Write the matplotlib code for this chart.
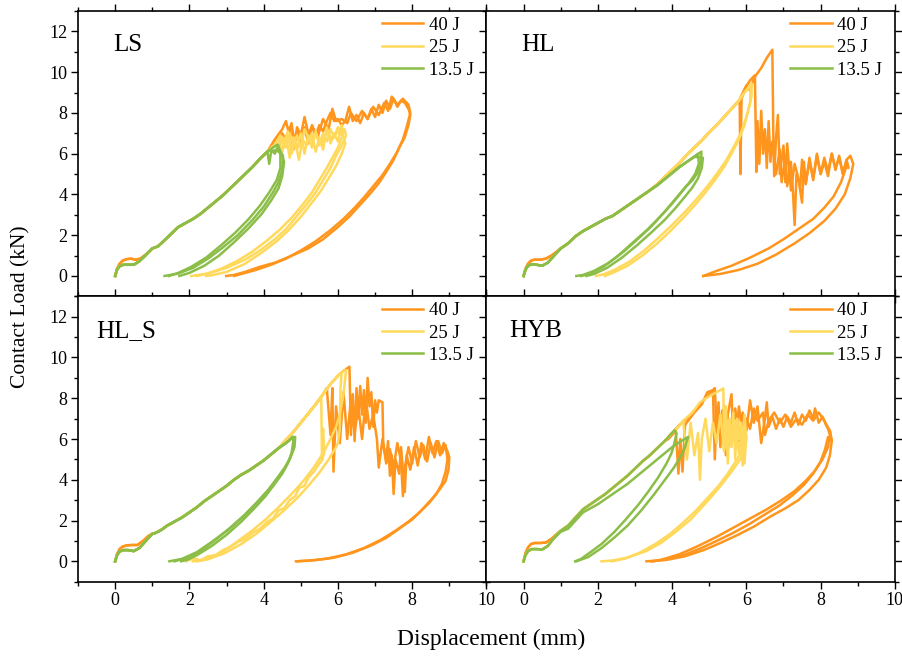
import numpy as np
import matplotlib
matplotlib.use('Agg')
import matplotlib.pyplot as plt
from matplotlib.ticker import MultipleLocator
from matplotlib.lines import Line2D

plt.rcParams['font.family'] = ['Liberation Serif', 'DejaVu Serif']
plt.rcParams['mathtext.fontset'] = 'stix'

C40, C25, C13 = '#FF951C', '#FFD95C', '#8BBE48'
ENERGIES = ['40 J', '25 J', '13.5 J']
PANELS = ['LS', 'HL', 'HL_S', 'HYB']

# ---------------- LS ----------------
LS_toe_40 = [(0, 0), (0.05, 0.35), (0.12, 0.6), (0.2, 0.75), (0.3, 0.82), (0.42, 0.85), (0.55, 0.8), (0.68, 0.85), (0.82, 1.05)]
LS_toe = [(0, 0), (0.05, 0.3), (0.12, 0.48), (0.22, 0.55), (0.35, 0.55), (0.5, 0.55), (0.65, 0.72), (0.8, 0.98)]
LS_path = [(1.0, 1.35), (1.15, 1.45), (1.3, 1.7), (1.5, 2.05), (1.7, 2.4), (1.9, 2.6), (2.1, 2.8), (2.3, 3.05),
           (2.5, 3.35), (2.7, 3.65), (2.9, 3.95), (3.1, 4.3), (3.3, 4.65), (3.5, 5.0), (3.7, 5.35), (3.9, 5.75), (4.1, 6.1)]
LS_13_peak1 = [(4.25, 6.3), (4.38, 6.45), (4.45, 6.1), (4.52, 5.9)]
LS_13_peak2 = [(4.2, 6.2), (4.3, 6.0), (4.38, 6.3), (4.45, 6.1)]
LS_13_peak3 = [(4.15, 5.5), (4.2, 6.1), (4.35, 6.2), (4.5, 5.9), (4.55, 5.6)]
LS_13_un1 = [(4.5, 5.2), (4.4, 4.6), (4.25, 4.1), (4.0, 3.4), (3.7, 2.75), (3.3, 2.0), (2.9, 1.4), (2.5, 0.85), (2.1, 0.4), (1.7, 0.12), (1.33, 0)]
LS_13_un2 = [(4.45, 5.3), (4.35, 4.7), (4.15, 4.1), (3.9, 3.45), (3.6, 2.8), (3.25, 2.15), (2.85, 1.5), (2.45, 0.9), (2.05, 0.45), (1.7, 0.15), (1.45, 0)]
LS_13_un3 = [(4.5, 4.9), (4.4, 4.3), (4.2, 3.7), (3.95, 3.05), (3.6, 2.35), (3.2, 1.65), (2.8, 1.0), (2.4, 0.5), (2.0, 0.15), (1.73, 0)]
LS_25_top1 = [(4.3, 6.45), (4.4, 6.7), (4.5, 6.1), (4.6, 6.9), (4.7, 5.8), (4.8, 6.8), (4.9, 6.2), (5.0, 7.0), (5.1, 6.0), (5.2, 6.9),
              (5.3, 6.3), (5.4, 7.1), (5.5, 6.4), (5.6, 7.0), (5.7, 6.6), (5.8, 7.2), (5.9, 6.8), (6.0, 7.3), (6.1, 7.0), (6.18, 7.2), (6.22, 6.9)]
LS_25_top2 = [(4.3, 6.45), (4.45, 6.9), (4.55, 6.3), (4.65, 7.1), (4.75, 6.0), (4.85, 6.6), (4.95, 5.7), (5.05, 6.7), (5.15, 6.4),
              (5.3, 7.0), (5.4, 6.1), (5.5, 6.8), (5.6, 6.2), (5.7, 7.3), (5.8, 6.5), (5.9, 7.0), (6.0, 6.6), (6.1, 7.4), (6.15, 7.0)]
LS_25_top3 = [(4.3, 6.45), (4.4, 6.2), (4.5, 6.8), (4.6, 6.3), (4.7, 7.0), (4.8, 6.5), (4.9, 6.9), (5.0, 6.3), (5.1, 7.2), (5.25, 6.6),
              (5.4, 6.9), (5.55, 6.5), (5.7, 7.1), (5.85, 6.7), (6.0, 7.1), (6.15, 6.8), (6.2, 6.5)]
LS_25_un1 = [(6.1, 6.4), (5.95, 5.9), (5.8, 5.3), (5.6, 4.7), (5.4, 4.1), (5.15, 3.5), (4.9, 2.95), (4.6, 2.3), (4.3, 1.8), (3.9, 1.25),
             (3.5, 0.8), (3.0, 0.4), (2.5, 0.12), (2.05, 0)]
LS_25_un2 = [(6.0, 6.3), (5.85, 5.8), (5.7, 5.3), (5.5, 4.7), (5.3, 4.1), (5.05, 3.5), (4.75, 2.85), (4.45, 2.3), (4.1, 1.75), (3.7, 1.2),
             (3.3, 0.75), (2.85, 0.35), (2.45, 0.1), (2.2, 0)]
LS_25_un3 = [(6.1, 6.0), (5.95, 5.4), (5.75, 4.8), (5.55, 4.2), (5.3, 3.6), (5.0, 2.9), (4.7, 2.3), (4.35, 1.7), (3.95, 1.15), (3.5, 0.6),
             (3.0, 0.2), (2.6, 0.03), (2.45, 0)]
LS_40_top1 = [(4.3, 6.7), (4.5, 7.2), (4.6, 7.6), (4.68, 7.0), (4.75, 7.5), (4.83, 6.5), (4.9, 7.3), (5.0, 6.9), (5.1, 7.8), (5.2, 7.0),
              (5.3, 7.3), (5.4, 6.9), (5.5, 7.4), (5.6, 7.1), (5.7, 7.6), (5.8, 8.0), (5.9, 7.6), (6.0, 7.7), (6.1, 7.4), (6.2, 7.6),
              (6.3, 8.3), (6.4, 7.6), (6.5, 7.9), (6.6, 7.5), (6.7, 8.0), (6.8, 7.7), (6.9, 8.2), (7.0, 7.8), (7.1, 8.4), (7.2, 8.0),
              (7.3, 8.6), (7.4, 8.2), (7.5, 8.7), (7.6, 8.3), (7.7, 8.6), (7.8, 8.5), (7.9, 8.2), (7.95, 7.9)]
LS_40_top2 = [(4.3, 6.6), (4.5, 7.0), (4.6, 6.7), (4.7, 7.3), (4.8, 6.2), (4.9, 7.1), (5.0, 6.6), (5.1, 7.3), (5.2, 6.5), (5.3, 7.4),
              (5.45, 6.8), (5.6, 7.7), (5.75, 7.2), (5.85, 8.2), (5.95, 7.6), (6.1, 7.7), (6.25, 7.5), (6.35, 8.0), (6.5, 7.6),
              (6.65, 8.1), (6.8, 7.7), (6.95, 8.3), (7.1, 7.9), (7.25, 8.5), (7.35, 8.1), (7.45, 8.8), (7.6, 8.4), (7.75, 8.7),
              (7.9, 8.4), (7.95, 8.0)]
LS_40_un1 = [(7.9, 7.4), (7.8, 6.8), (7.65, 6.3), (7.5, 5.7), (7.3, 5.1), (7.1, 4.55), (6.85, 4.0), (6.6, 3.5), (6.3, 2.9), (6.0, 2.4),
             (5.6, 1.8), (5.2, 1.35), (4.7, 0.95), (4.3, 0.65), (3.9, 0.45), (3.5, 0.2), (3.2, 0.05), (2.99, 0)]
LS_40_un2 = [(7.85, 7.3), (7.75, 6.7), (7.6, 6.1), (7.4, 5.5), (7.2, 4.95), (6.95, 4.4), (6.7, 3.85), (6.45, 3.35), (6.15, 2.8),
             (5.8, 2.25), (5.4, 1.7), (5.0, 1.25), (4.6, 0.85), (4.2, 0.55), (3.8, 0.3), (3.4, 0.1), (3.2, 0)]

# ---------------- HL ----------------
HL_toe_40 = [(0, 0), (0.05, 0.35), (0.12, 0.6), (0.2, 0.75), (0.3, 0.8), (0.45, 0.8), (0.6, 0.85), (0.75, 1.0), (0.9, 1.2)]
HL_toe = [(0, 0), (0.05, 0.3), (0.12, 0.5), (0.22, 0.58), (0.35, 0.55), (0.5, 0.5), (0.65, 0.65), (0.8, 0.95)]
HL_path = [(1.0, 1.35), (1.2, 1.6), (1.4, 1.95), (1.6, 2.2), (1.8, 2.4), (2.0, 2.6), (2.2, 2.8), (2.4, 2.95), (2.6, 3.2),
           (2.8, 3.45), (3.0, 3.7), (3.2, 3.95), (3.4, 4.2)]
HL_upper = [(3.6, 4.5), (3.8, 4.85), (4.0, 5.2), (4.2, 5.55), (4.4, 5.95), (4.6, 6.3), (4.8, 6.65), (5.0, 7.05), (5.2, 7.4),
            (5.4, 7.8), (5.6, 8.2), (5.8, 8.6)]
HL_13_load = [(3.6, 4.45), (3.8, 4.75), (4.0, 5.05), (4.2, 5.35), (4.4, 5.6), (4.6, 5.85)]
HL_13_un1 = [(4.79, 6.1), (4.78, 5.6), (4.7, 5.1), (4.55, 4.7), (4.35, 4.35), (4.1, 3.8), (3.8, 3.15), (3.45, 2.45), (3.1, 1.85),
             (2.7, 1.2), (2.3, 0.65), (1.9, 0.25), (1.6, 0.05), (1.42, 0)]
HL_13_un2 = [(4.83, 5.8), (4.8, 5.3), (4.7, 4.8), (4.55, 4.35), (4.35, 3.9), (4.1, 3.35), (3.8, 2.75), (3.45, 2.15), (3.05, 1.5),
             (2.65, 0.9), (2.25, 0.4), (1.9, 0.1), (1.69, 0)]
HL_13_un3 = [(4.7, 6.0), (4.72, 5.5), (4.62, 5.0), (4.45, 4.55), (4.25, 4.1), (4.0, 3.55), (3.7, 2.95), (3.35, 2.3), (2.95, 1.65),
             (2.55, 1.0), (2.15, 0.45), (1.8, 0.12), (1.55, 0)]
HL_25_peak1 = [(5.95, 9.0), (6.08, 9.3), (6.14, 9.45)]
HL_25_peak2 = [(5.9, 8.9), (6.05, 9.2), (6.12, 9.3)]
HL_25_un1 = [(6.14, 8.8), (6.05, 8.1), (5.95, 7.4), (5.8, 6.7), (5.6, 6.0), (5.4, 5.35), (5.15, 4.7), (4.9, 4.1), (4.6, 3.45),
             (4.3, 2.85), (3.95, 2.2), (3.6, 1.6), (3.2, 1.0), (2.8, 0.5), (2.4, 0.15), (2.19, 0)]
HL_25_un2 = [(6.1, 8.5), (6.0, 7.8), (5.85, 7.0), (5.65, 6.3), (5.45, 5.65), (5.2, 5.0), (4.95, 4.4), (4.65, 3.75), (4.35, 3.15),
             (4.0, 2.5), (3.65, 1.9), (3.25, 1.25), (2.85, 0.7), (2.45, 0.3), (2.15, 0.08), (1.95, 0)]
HL_40_top1 = [(5.82, 8.65), (5.84, 5.0), (5.87, 8.7), (6.0, 9.3), (6.1, 9.6), (6.23, 9.85), (6.27, 5.1), (6.3, 7.6), (6.35, 5.5),
              (6.4, 8.1), (6.45, 6.0), (6.5, 7.2), (6.55, 5.3), (6.6, 7.6), (6.65, 5.6), (6.7, 6.6), (6.8, 5.0), (6.9, 6.2),
              (6.95, 4.6), (7.05, 5.9), (7.1, 4.4), (7.2, 5.6), (7.25, 4.3), (7.3, 2.5), (7.35, 5.0), (7.45, 4.4), (7.5, 5.7),
              (7.6, 4.6), (7.7, 5.6), (7.8, 4.8), (7.9, 5.9), (8.0, 5.0), (8.1, 5.8), (8.2, 5.1), (8.3, 6.0), (8.4, 5.3),
              (8.5, 5.8), (8.6, 5.0), (8.7, 5.7), (8.8, 5.9), (8.88, 5.5)]
HL_40_top2 = [(6.0, 9.35), (6.1, 9.1), (6.2, 9.7), (6.4, 10.2), (6.55, 10.7), (6.7, 11.1), (6.73, 6.3), (6.75, 4.9), (6.8, 6.8),
              (6.85, 7.9), (6.9, 5.0), (7.0, 6.4), (7.05, 4.6), (7.1, 6.5), (7.2, 4.2), (7.3, 5.5), (7.4, 4.8), (7.5, 3.6),
              (7.55, 5.6), (7.6, 4.5), (7.7, 5.8), (7.8, 4.7), (7.9, 6.0), (8.0, 5.0), (8.1, 5.6), (8.2, 4.9), (8.3, 6.0),
              (8.4, 5.2), (8.5, 5.9), (8.6, 5.0), (8.7, 5.7), (8.75, 5.3)]
HL_40_un1 = [(8.8, 4.8), (8.65, 4.0), (8.4, 3.3), (8.1, 2.7), (7.7, 2.1), (7.3, 1.6), (6.8, 1.05), (6.3, 0.6), (5.8, 0.3),
             (5.3, 0.1), (4.84, 0)]
HL_40_un2 = [(8.7, 5.4), (8.55, 4.6), (8.35, 3.9), (8.1, 3.35), (7.8, 2.8), (7.4, 2.3), (7.0, 1.8), (6.6, 1.35), (6.1, 0.9),
             (5.6, 0.5), (5.2, 0.25), (4.84, 0)]

# ---------------- HL_S ----------------
HLS_toe_40 = [(0, 0), (0.05, 0.35), (0.12, 0.6), (0.2, 0.72), (0.3, 0.78), (0.45, 0.8), (0.6, 0.8), (0.75, 1.0), (0.9, 1.25)]
HLS_toe = [(0, 0), (0.05, 0.3), (0.12, 0.48), (0.22, 0.55), (0.35, 0.55), (0.5, 0.5), (0.65, 0.65), (0.8, 0.95)]
HLS_path = [(1.0, 1.35), (1.1, 1.4), (1.25, 1.55), (1.4, 1.75), (1.6, 1.95), (1.8, 2.15), (2.0, 2.4), (2.2, 2.65), (2.4, 2.95),
            (2.6, 3.2), (2.8, 3.45), (3.0, 3.7), (3.2, 4.0), (3.4, 4.25), (3.6, 4.45), (3.8, 4.7), (4.0, 4.95), (4.2, 5.25),
            (4.4, 5.55)]
HLS_upper = [(4.6, 5.95), (4.8, 6.35), (5.0, 6.8), (5.2, 7.25), (5.4, 7.7), (5.6, 8.2)]
HLS_upper2 = [(5.8, 8.7), (6.0, 9.1), (6.15, 9.35)]
HLS_13_load = [(4.6, 5.8), (4.7, 5.95), (4.78, 6.1)]
HLS_13_un1 = [(4.82, 6.0), (4.8, 5.5), (4.7, 5.0), (4.55, 4.55), (4.35, 4.05), (4.1, 3.45), (3.8, 2.85), (3.45, 2.2), (3.05, 1.55),
              (2.6, 0.95), (2.2, 0.45), (1.8, 0.12), (1.46, 0)]
HLS_13_un2 = [(4.8, 5.9), (4.75, 5.3), (4.65, 4.8), (4.5, 4.3), (4.3, 3.8), (4.05, 3.2), (3.75, 2.6), (3.4, 1.95), (3.0, 1.3),
              (2.6, 0.75), (2.2, 0.3), (1.95, 0.08), (1.78, 0)]
HLS_13_un3 = [(4.85, 6.1), (4.83, 5.6), (4.72, 5.1), (4.58, 4.6), (4.4, 4.15), (4.15, 3.55), (3.85, 2.95), (3.5, 2.3), (3.1, 1.65),
              (2.7, 1.05), (2.3, 0.5), (1.9, 0.15), (1.6, 0)]
HLS_25_un1 = [(6.22, 9.38), (6.15, 8.2), (6.05, 7.2), (5.95, 6.6), (5.8, 6.0), (5.6, 5.3), (5.35, 4.6), (5.05, 3.9), (4.75, 3.3),
              (4.4, 2.65), (4.05, 2.05), (3.65, 1.45), (3.2, 0.85), (2.8, 0.35), (2.4, 0.08), (2.09, 0)]
HLS_25_un2 = [(5.55, 8.1), (5.57, 5.0), (5.6, 6.5), (5.63, 5.3), (5.55, 4.9), (5.5, 4.8), (5.35, 4.4), (5.2, 4.1), (5.1, 3.7),
              (4.95, 3.6), (4.85, 3.2), (4.7, 3.0), (4.55, 2.6), (4.4, 2.5), (4.25, 2.1), (4.1, 1.95), (3.9, 1.6), (3.7, 1.4),
              (3.5, 1.1), (3.3, 0.95), (3.1, 0.7), (2.9, 0.55), (2.7, 0.3), (2.5, 0.25), (2.3, 0.05), (2.1, 0.15), (1.91, 0)]
HLS_25_un3 = [(6.1, 9.25), (6.07, 8.5), (6.05, 6.5), (6.0, 5.8), (5.95, 5.6), (5.75, 5.0), (5.5, 4.35), (5.2, 3.7), (4.9, 3.1),
              (4.55, 2.5), (4.2, 1.95), (3.8, 1.35), (3.4, 0.85), (2.95, 0.4), (2.5, 0.1), (2.2, 0)]
HLS_40_top1 = [(6.2, 9.4), (6.31, 9.55), (6.35, 6.2), (6.4, 8.2), (6.45, 5.9), (6.5, 8.5), (6.55, 7.0), (6.6, 8.6), (6.65, 7.2),
               (6.7, 8.4), (6.75, 6.8), (6.8, 9.0), (6.85, 7.6), (6.9, 8.3), (6.95, 6.6), (7.0, 7.9), (7.05, 7.3), (7.1, 7.9),
               (7.2, 7.8), (7.22, 5.8), (7.3, 5.0), (7.35, 5.9), (7.4, 4.2), (7.45, 5.2), (7.5, 3.3), (7.55, 5.0), (7.65, 4.3),
               (7.7, 5.6), (7.8, 3.4), (7.85, 5.2), (7.95, 4.5), (8.05, 5.6), (8.15, 4.7), (8.25, 5.8), (8.35, 5.0), (8.45, 6.1),
               (8.55, 5.3), (8.65, 5.9), (8.75, 5.2), (8.85, 5.8), (8.95, 5.4), (9.0, 5.1)]
HLS_40_top2 = [(5.7, 8.5), (5.8, 6.2), (5.85, 8.5), (5.88, 4.4), (5.95, 7.6), (6.05, 5.8), (6.15, 8.3), (6.25, 6.0), (6.35, 8.0),
               (6.45, 6.3), (6.55, 7.6), (6.65, 6.0), (6.75, 8.0), (6.85, 6.5), (6.95, 7.2), (7.05, 6.0), (7.1, 4.6), (7.2, 6.0),
               (7.3, 4.8), (7.4, 5.5), (7.5, 4.6), (7.6, 5.8), (7.7, 4.9), (7.75, 3.2), (7.8, 4.6), (7.9, 5.6), (8.0, 4.8),
               (8.1, 5.9), (8.2, 5.1), (8.3, 5.7), (8.4, 4.9), (8.5, 5.8), (8.6, 5.1), (8.7, 5.9), (8.8, 5.3), (8.9, 5.7),
               (8.95, 5.0)]
HLS_40_un1 = [(8.98, 4.5), (8.9, 3.95), (8.75, 3.55), (8.55, 3.1), (8.3, 2.6), (8.0, 2.05), (7.65, 1.6), (7.3, 1.15), (6.9, 0.78),
              (6.4, 0.42), (5.9, 0.18), (5.4, 0.06), (4.87, 0)]
HLS_40_un2 = [(8.9, 4.4), (8.8, 3.8), (8.65, 3.3), (8.45, 2.85), (8.2, 2.4), (7.9, 1.95), (7.55, 1.5), (7.15, 1.05), (6.7, 0.65),
              (6.2, 0.33), (5.7, 0.13), (5.2, 0.03), (4.9, 0)]

# ---------------- HYB ----------------
HYB_toe_40 = [(0, 0), (0.05, 0.4), (0.12, 0.68), (0.2, 0.85), (0.3, 0.9), (0.45, 0.9), (0.6, 0.92), (0.75, 1.1), (0.9, 1.35)]
HYB_toe = [(0, 0), (0.05, 0.3), (0.12, 0.5), (0.22, 0.6), (0.35, 0.6), (0.5, 0.58), (0.65, 0.75), (0.8, 1.1)]
HYB_path = [(1.0, 1.5), (1.2, 1.75), (1.4, 2.15), (1.6, 2.55), (1.8, 2.8), (2.0, 3.05), (2.2, 3.3), (2.4, 3.6), (2.6, 3.9),
            (2.8, 4.2), (3.0, 4.55), (3.2, 4.9), (3.4, 5.2), (3.6, 5.55), (3.8, 5.9)]
HYB_13_load1 = [(3.95, 6.2), (4.07, 6.43), (4.12, 6.27)]
HYB_13_load2 = [(1.0, 1.45), (1.2, 1.6), (1.4, 2.0), (1.6, 2.4), (1.8, 2.6), (2.0, 2.8), (2.2, 3.05), (2.4, 3.3), (2.6, 3.55),
                (2.8, 3.8), (3.0, 4.1), (3.2, 4.4), (3.4, 4.7), (3.6, 5.0), (3.8, 5.3), (4.0, 5.6), (4.2, 5.85), (4.43, 6.1)]
HYB_13_un1 = [(4.05, 5.7), (3.98, 5.29), (3.85, 4.8), (3.62, 4.1), (3.35, 3.4), (3.08, 2.75), (2.75, 2.05), (2.45, 1.45),
              (2.1, 0.85), (1.75, 0.38), (1.55, 0.12), (1.39, 0)]
HYB_13_un2 = [(4.35, 5.6), (4.25, 5.2), (4.05, 4.6), (3.8, 3.98), (3.5, 3.25), (3.17, 2.5), (2.8, 1.75), (2.46, 1.19), (2.1, 0.65),
              (1.74, 0.21), (1.42, 0)]
HYB_upper = [(4.0, 6.3), (4.15, 6.55), (4.3, 6.9)]
HYB_25_top1 = [(4.55, 7.3), (4.75, 7.8), (5.0, 8.1), (5.2, 8.3), (5.38, 8.48), (5.4, 5.5), (5.45, 7.6), (5.5, 4.8), (5.55, 7.0),
               (5.6, 5.6), (5.65, 7.3), (5.7, 5.0), (5.75, 7.0), (5.8, 6.0), (5.85, 6.8), (5.9, 4.7), (5.95, 7.2), (6.0, 6.0)]
HYB_25_top2 = [(4.4, 5.0), (4.5, 6.8), (4.6, 5.2), (4.7, 6.3), (4.75, 4.0), (4.8, 6.0), (4.9, 7.0), (5.0, 5.4), (5.1, 6.8),
               (5.2, 5.8), (5.3, 7.2), (5.4, 5.4), (5.5, 6.9), (5.6, 5.7), (5.7, 6.9), (5.8, 5.3), (5.9, 6.6), (5.95, 4.8),
               (6.0, 6.2)]
HYB_25_un1 = [(5.95, 5.4), (5.8, 4.9), (5.6, 4.4), (5.35, 3.8), (5.1, 3.25), (4.8, 2.65), (4.5, 2.05), (4.1, 1.45), (3.7, 0.9),
              (3.3, 0.5), (2.8, 0.18), (2.4, 0.04), (2.1, 0)]
HYB_25_un2 = [(5.9, 5.5), (5.75, 5.0), (5.5, 4.3), (5.25, 3.7), (4.95, 3.1), (4.65, 2.5), (4.3, 1.9), (3.95, 1.35), (3.55, 0.85),
              (3.1, 0.4), (2.7, 0.12), (2.37, 0)]
HYB_40_top1 = [(4.0, 6.3), (4.2, 6.7), (4.4, 7.0), (4.6, 7.4), (4.8, 7.8), (5.0, 8.2), (5.15, 8.5), (5.2, 6.5), (5.25, 7.8),
               (5.3, 5.6), (5.35, 7.4), (5.45, 5.2), (5.5, 7.2), (5.6, 8.2), (5.65, 6.0), (5.7, 7.5), (5.8, 5.9), (5.9, 7.3),
               (6.0, 6.4), (6.1, 7.9), (6.2, 6.8), (6.3, 7.6), (6.4, 5.8), (6.5, 7.0), (6.55, 7.8), (6.6, 6.6), (6.7, 7.1),
               (6.8, 6.5), (6.9, 7.0), (7.0, 6.6), (7.1, 7.1), (7.2, 6.8), (7.3, 7.3), (7.4, 6.7), (7.5, 7.2), (7.6, 6.9),
               (7.7, 7.4), (7.8, 7.0), (7.85, 7.5), (7.95, 6.8), (8.05, 7.1), (8.15, 6.7), (8.25, 6.4), (8.3, 5.9)]
HYB_40_top2 = [(3.9, 6.0), (4.1, 6.4), (4.17, 4.3), (4.22, 6.0), (4.28, 4.4), (4.35, 6.7), (4.6, 7.3), (4.8, 7.7), (4.95, 8.3),
               (5.1, 8.4), (5.15, 5.0), (5.2, 7.2), (5.3, 6.2), (5.4, 7.6), (5.5, 5.5), (5.6, 6.8), (5.7, 5.8), (5.8, 7.6),
               (5.9, 6.2), (6.0, 7.0), (6.1, 6.5), (6.2, 7.5), (6.3, 6.9), (6.45, 7.3), (6.5, 6.2), (6.6, 6.9), (6.75, 7.3),
               (6.9, 6.8), (7.05, 7.2), (7.2, 6.6), (7.35, 7.0), (7.5, 6.7), (7.65, 7.2), (7.8, 6.9), (7.95, 7.3), (8.1, 6.9),
               (8.2, 6.5), (8.25, 6.2)]
HYB_40_un1 = [(8.25, 5.2), (8.15, 4.6), (7.95, 4.0), (7.7, 3.5), (7.4, 3.0), (7.05, 2.6), (6.65, 2.2), (6.2, 1.7), (5.75, 1.28),
              (5.3, 0.9), (4.85, 0.55), (4.35, 0.25), (3.85, 0.07), (3.31, 0)]
HYB_40_un2 = [(8.2, 5.6), (8.05, 5.0), (7.85, 4.45), (7.6, 3.95), (7.3, 3.45), (6.95, 3.0), (6.55, 2.55), (6.1, 2.1), (5.65, 1.65),
              (5.2, 1.2), (4.7, 0.75), (4.2, 0.35), (3.75, 0.1), (3.5, 0)]
HYB_40_un3 = [(8.2, 6.1), (8.12, 5.5), (8.0, 4.9), (7.8, 4.3), (7.55, 3.75), (7.25, 3.25), (6.9, 2.75), (6.5, 2.3), (6.1, 1.85),
              (5.65, 1.4), (5.2, 1.0), (4.75, 0.62), (4.3, 0.3), (3.8, 0.08), (3.44, 0)]

LW = 1.8


def trace(ax, color, *segs):
    pts = np.concatenate([np.asarray(s, dtype=float) for s in segs])
    ax.plot(pts[:, 0], pts[:, 1], color=color, lw=LW, solid_joinstyle='round')


fig, axes = plt.subplots(2, 2, figsize=(9.03, 6.59), dpi=100)
fig.subplots_adjust(left=0.0864, right=0.991, top=0.9833, bottom=0.1173, hspace=0, wspace=0)
ax_ls, ax_hl, ax_hls, ax_hyb = axes[0, 0], axes[0, 1], axes[1, 0], axes[1, 1]

# LS
trace(ax_ls, C40, LS_toe_40, LS_path, LS_40_top1, LS_40_un1)
trace(ax_ls, C40, LS_toe_40, LS_path, LS_40_top2, LS_40_un2)
trace(ax_ls, C25, LS_toe, LS_path, LS_25_top1, LS_25_un1)
trace(ax_ls, C25, LS_toe, LS_path, LS_25_top2, LS_25_un2)
trace(ax_ls, C25, LS_toe, LS_path, LS_25_top3, LS_25_un3)
trace(ax_ls, C13, LS_toe, LS_path, LS_13_peak1, LS_13_un1)
trace(ax_ls, C13, LS_toe, LS_path, LS_13_peak2, LS_13_un2)
trace(ax_ls, C13, LS_toe, LS_path, LS_13_peak3, LS_13_un3)

# HL
trace(ax_hl, C40, HL_toe_40, HL_path, HL_upper, HL_40_top1, HL_40_un1)
trace(ax_hl, C40, HL_toe_40, HL_path, HL_upper, HL_40_top2, HL_40_un2)
trace(ax_hl, C25, HL_toe, HL_path, HL_upper, HL_25_peak1, HL_25_un1)
trace(ax_hl, C25, HL_toe, HL_path, HL_upper, HL_25_peak2, HL_25_un2)
trace(ax_hl, C13, HL_toe, HL_path, HL_13_load, HL_13_un1)
trace(ax_hl, C13, HL_toe, HL_path, HL_13_load, HL_13_un2)
trace(ax_hl, C13, HL_toe, HL_path, HL_13_load, HL_13_un3)

# HL_S
trace(ax_hls, C40, HLS_toe_40, HLS_path, HLS_upper, HLS_upper2, HLS_40_top1, HLS_40_un1)
trace(ax_hls, C40, HLS_toe_40, HLS_path, HLS_upper, HLS_40_top2, HLS_40_un2)
trace(ax_hls, C25, HLS_toe, HLS_path, HLS_upper, HLS_upper2, HLS_25_un1)
trace(ax_hls, C25, HLS_toe, HLS_path, HLS_upper, HLS_25_un2)
trace(ax_hls, C25, HLS_toe, HLS_path, HLS_upper, HLS_upper2[:2], HLS_25_un3)
trace(ax_hls, C13, HLS_toe, HLS_path, HLS_13_load, HLS_13_un1)
trace(ax_hls, C13, HLS_toe, HLS_path, HLS_13_load, HLS_13_un2)
trace(ax_hls, C13, HLS_toe, HLS_path, HLS_13_load, HLS_13_un3)

# HYB
trace(ax_hyb, C40, HYB_toe_40, HYB_path, HYB_40_top1, HYB_40_un1)
trace(ax_hyb, C40, HYB_toe_40, HYB_path, HYB_40_top2, HYB_40_un2)
trace(ax_hyb, C40, HYB_40_top1[-3:], HYB_40_un3)
trace(ax_hyb, C25, HYB_toe, HYB_path, HYB_upper, HYB_25_top1, HYB_25_un1)
trace(ax_hyb, C25, HYB_toe, HYB_path, HYB_upper, HYB_25_top2, HYB_25_un2)
trace(ax_hyb, C13, HYB_toe, HYB_path, HYB_13_load1, HYB_13_un1)
trace(ax_hyb, C13, HYB_toe, HYB_13_load2, HYB_13_un2)

label_pos = {ax_ls: (0.085, 0.882), ax_hl: (0.085, 0.882), ax_hls: (0.045, 0.88), ax_hyb: (0.055, 0.88)}
for ax, name in zip([ax_ls, ax_hl, ax_hls, ax_hyb], PANELS):
    ax.set_xlim(-1, 10)
    ax.set_ylim(-1, 13)
    ax.xaxis.set_major_locator(MultipleLocator(2))
    ax.xaxis.set_minor_locator(MultipleLocator(1))
    ax.yaxis.set_major_locator(MultipleLocator(2))
    ax.yaxis.set_minor_locator(MultipleLocator(1))
    ax.tick_params(which='both', direction='out', top=True, right=True, width=1.0, labelsize=13, pad=2.5)
    ax.tick_params(which='major', length=5)
    ax.tick_params(which='minor', length=3)
    for sp in ax.spines.values():
        sp.set_linewidth(1.2)
    if ax in (ax_ls, ax_hl):
        ax.tick_params(labelbottom=False)
    if ax in (ax_hl, ax_hyb):
        ax.tick_params(labelleft=False)
    lx, ly = label_pos[ax]
    ax.text(lx, ly, name, transform=ax.transAxes, fontsize=18, va='center', ha='left')
    handles = [Line2D([], [], color=c, lw=LW) for c in (C40, C25, C13)]
    ax.legend(handles, ENERGIES, loc='upper left', bbox_to_anchor=(0.735, 0.993), frameon=False, fontsize=13.5,
              handlelength=2.2, handletextpad=0.3, labelspacing=0.28, borderaxespad=0.0, borderpad=0.2)

fig.text(0.0227, 0.535, 'Contact Load (kN)', rotation=90, va='center', ha='center', fontsize=15.5)
fig.text(0.544, 0.029, 'Displacement (mm)', va='center', ha='center', fontsize=17)

fig.savefig('out.png', dpi=100)
